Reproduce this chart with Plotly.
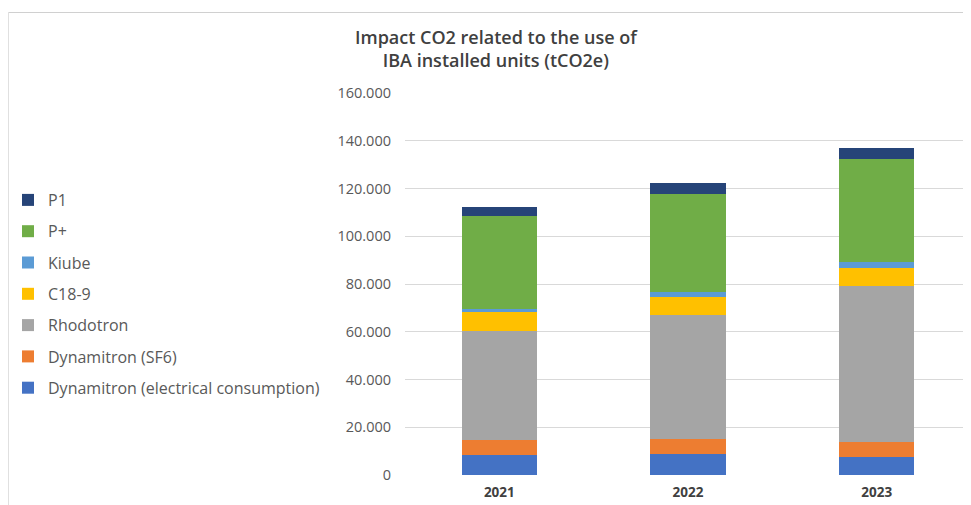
import plotly.graph_objects as go

years = ["2021", "2022", "2023"]
series_names = ["Dynamitron (electrical consumption)", "Dynamitron (SF6)", "Rhodotron",
                "C18-9", "Kiube", "P+", "P1"]
dyn_elec = [8500, 8700, 7700]
dyn_sf6 = [6200, 6300, 6000]
rhodotron = [45800, 52000, 65600]
c18_9 = [7800, 7400, 7500]
kiube = [1100, 2100, 2500]
p_plus = [39100, 41000, 42900]
p1 = [3900, 4600, 4900]
series_values = [dyn_elec, dyn_sf6, rhodotron, c18_9, kiube, p_plus, p1]
colors = ["#4472C4", "#ED7D31", "#A5A5A5", "#FFC000", "#5B9BD5", "#70AD47", "#264478"]
y_ticks = [0, 20000, 40000, 60000, 80000, 100000, 120000, 140000, 160000]

# page body has an 8px margin; work in window pixel coordinates and shift
OFF = 8
W, H = 971 - OFF, 505 - OFF
L, R, T, B = 405 - OFF, 0, 93 - OFF, 30
pw, ph = W - L - R, H - T - B

def px(x):  # window x -> paper
    return (x - OFF - L) / pw

def py(y):  # window y -> paper
    return (H - B - (y - OFF)) / ph

fig = go.Figure()
n = len(series_names)
for i, (name, vals, col) in enumerate(zip(series_names, series_values, colors)):
    fig.add_trace(go.Bar(x=years, y=vals, name=name, marker=dict(color=col, line=dict(width=0)),
                         legendgroup=name, legendrank=n - i))

fig.update_layout(
    width=W, height=H,
    margin=dict(l=L, r=R, t=T, b=B, pad=0),
    barmode="stack", bargap=0.6,
    separators=",.",
    plot_bgcolor="white", paper_bgcolor="white",
    font=dict(family="Open Sans", color="#595959"),
    showlegend=True,
    legend=dict(x=px(OFF), y=py(183), xanchor="left", yanchor="top",
                traceorder="grouped", tracegroupgap=7.5,
                font=dict(size=16, color="#595959"), bgcolor="rgba(0,0,0,0)",
                itemwidth=30),
    xaxis=dict(showgrid=False, showline=False, ticks="",
               tickfont=dict(size=13.5, color="#404040", family="Open Sans"),
               tickprefix="<b>", ticksuffix="</b>", ticklabelstandoff=7),
    yaxis=dict(range=[0, 160000], tickvals=y_ticks, tickformat=",d",
               gridcolor="#D9D9D9", gridwidth=1, zeroline=False, showline=False,
               tickfont=dict(size=14.5, color="#595959"), ticks="", ticklabelstandoff=13),
    annotations=[dict(text="Impact CO2 related to the use of<br>IBA installed units (tCO2e)",
                      xref="paper", yref="paper", x=px(496), y=py(49), xanchor="center",
                      yanchor="middle", showarrow=False,
                      font=dict(size=18, color="#404040", family="Open Sans", weight=600))],
    shapes=[
        dict(type="line", xref="paper", yref="paper", x0=px(8), x1=px(971), y0=py(12.5), y1=py(12.5),
             line=dict(color="#D0D0D0", width=1)),
        dict(type="line", xref="paper", yref="paper", x0=px(8.5), x1=px(8.5), y0=py(12), y1=py(505),
             line=dict(color="#E0E0E0", width=1)),
    ],
)

fig.write_html("out.html")
